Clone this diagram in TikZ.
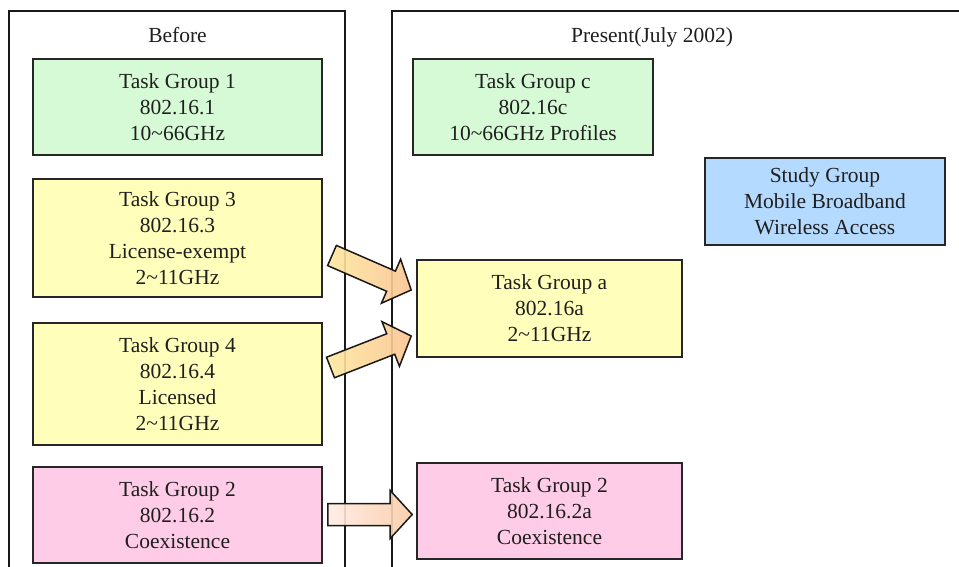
\documentclass[tikz,border=0pt]{standalone}
\usepackage{fontspec}
\setmainfont{Liberation Serif}
\usetikzlibrary{calc}

\definecolor{grpGreen}{RGB}{214,250,214}
\definecolor{grpYellow}{RGB}{255,255,187}
\definecolor{grpPink}{RGB}{255,204,232}
\definecolor{grpBlue}{RGB}{181,218,255}
\definecolor{arrYellow}{RGB}{255,232,160}
\definecolor{arrPeach}{RGB}{250,196,146}
\definecolor{arrPale}{RGB}{255,236,228}
\definecolor{arrPeachB}{RGB}{251,204,166}

\tikzset{
  panel/.style={draw=black!90, line width=1.6pt},
  grp/.style={draw=black!85, line width=1.6pt, align=center, inner sep=0pt,
    font=\fontsize{21.5}{26}\selectfont, text=black!88},
  heading/.style={font=\fontsize{21.5}{26}\selectfont, text=black!88, anchor=base, inner sep=0pt},
  blockarr/.style={draw=black!90, line width=1.5pt, line join=miter, fill opacity=0.9},
}

% block arrow from #1 to #2, drawn with style #3
\newcommand\blockarrow[3]{%
  \coordinate (#1-h) at ($(#2)!22pt!(#1)$);
  \path[blockarr,#3]
    ($(#1)!11pt!90:(#2)$) -- ($(#1-h)!11pt!90:(#2)$) -- ($(#1-h)!24pt!90:(#2)$)
    -- (#2) -- ($(#1-h)!24pt!-90:(#2)$) -- ($(#1-h)!11pt!-90:(#2)$)
    -- ($(#1)!11pt!-90:(#2)$) -- cycle;}

\newcommand\tld{\textasciitilde}

\begin{document}
\begin{tikzpicture}[x=1pt,y=-1pt]
  \useasboundingbox (0,0) rectangle (959,567);
  \clip (0,0) rectangle (959,567);
  \fill[white] (0,0) rectangle (959,567);

  % the two panels (open at the bottom / right)
  \draw[panel] (9,11) rectangle (345,600);
  \draw[panel] (392,11) rectangle (1000,600);

  \node[heading] (before) at (177.5,43) {Before};
  \node[heading] (present) at (652,43) {Present(July 2002)};

  % earlier task groups
  \node[grp, fill=grpGreen, minimum width=289pt, minimum height=96pt] (tg1) at (177.5,107)
    {Task Group 1\\802.16.1\\10\tld66GHz};
  \node[grp, fill=grpYellow, minimum width=289pt, minimum height=118pt] (tg3) at (177.5,238)
    {Task Group 3\\802.16.3\\License-exempt\\2\tld11GHz};
  \node[grp, fill=grpYellow, minimum width=289pt, minimum height=122pt] (tg4) at (177.5,384)
    {Task Group 4\\802.16.4\\Licensed\\2\tld11GHz};
  \node[grp, fill=grpPink, minimum width=289pt, minimum height=96pt] (tg2) at (177.5,515)
    {Task Group 2\\802.16.2\\Coexistence};

  % present task groups
  \node[grp, fill=grpGreen, minimum width=240pt, minimum height=96pt] (tgc) at (533,107)
    {Task Group c\\802.16c\\10\tld66GHz Profiles};
  \node[grp, fill=grpBlue, minimum width=240pt, minimum height=87pt] (sg) at (825,201.5)
    {Study Group\\Mobile Broadband\\Wireless Access};
  \node[grp, fill=grpYellow, minimum width=265pt, minimum height=97pt] (tga) at (549.5,308.5)
    {Task Group a\\802.16a\\2\tld11GHz};
  \node[grp, fill=grpPink, minimum width=265pt, minimum height=96pt] (tg2a) at (549.5,511)
    {Task Group 2\\802.16.2a\\Coexistence};

  % transition arrows
  \coordinate (a1s) at (332,255.5);
  \coordinate (a1e) at ([xshift=-5pt]tga.west |- 0,290);
  \coordinate (a2s) at (330.5,367.5);
  \coordinate (a2e) at ([xshift=-5pt]tga.west |- 0,336);
  \coordinate (a3s) at ([xshift=5pt]tg2.east |- 0,514.5);
  \coordinate (a3e) at ([xshift=-4pt]tg2a.west |- 0,514.5);

  \blockarrow{a1s}{a1e}{left color=arrYellow, right color=arrPeach}
  \blockarrow{a2s}{a2e}{left color=arrYellow, right color=arrPeach}
  \blockarrow{a3s}{a3e}{left color=arrPale, right color=arrPeachB}
\end{tikzpicture}
\end{document}
